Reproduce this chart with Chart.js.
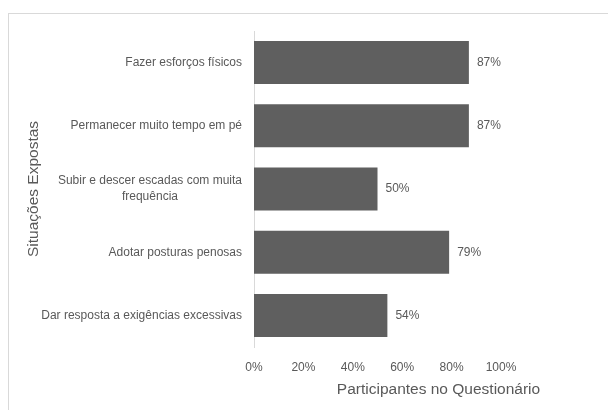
<!DOCTYPE html>
<html>
<head>
<meta charset="utf-8">
<script src="https://cdn.jsdelivr.net/npm/chart.js@4"></script>
<style>
  html, body { margin: 0; padding: 0; background: #fff; overflow: hidden; }
  #wrap { position: absolute; left: 0; top: 0; width: 608px; height: 410px; }
  #frame { position: absolute; left: 8px; top: 13px; width: 700px; height: 500px;
           border-top: 1px solid #d9d9d9; border-left: 1px solid #d9d9d9; }
</style>
</head>
<body>
<div id="wrap">
  <div id="frame"></div>
  <canvas id="chart" width="608" height="410"></canvas>
</div>
<script>
// --- datos ---
const categories = [
  ["Fazer esforços físicos"],
  ["Permanecer muito tempo em pé"],
  ["Subir e descer escadas com muita", "frequência"],
  ["Adotar posturas penosas"],
  ["Dar resposta a exigências excessivas"]
];
const values = [87, 87, 50, 79, 54];
const xTicks = [0, 20, 40, 60, 80, 100];
const xTitle = "Participantes no Questionário";
const yTitle = "Situações Expostas";

const FONT = "'Liberation Sans', Arial, sans-serif";
const TEXT = "#595959";

// etiquetas del eje Y, valores al final de cada barra y título del eje X
const labelsPlugin = {
  id: "labels",
  afterDraw(chart) {
    const ctx = chart.ctx;
    const yScale = chart.scales.y;
    const xScale = chart.scales.x;
    const area = chart.chartArea;
    ctx.save();
    ctx.fillStyle = TEXT;
    ctx.font = "12px " + FONT;
    ctx.textBaseline = "middle";
    ctx.textAlign = "center";
    const lineH = 16;
    categories.forEach((lines, i) => {
      const yc = yScale.getPixelForTick(i);
      const widest = Math.max(...lines.map((l) => ctx.measureText(l).width));
      const xc = area.left - 12 - widest / 2;
      lines.forEach((l, j) => {
        ctx.fillText(l, xc, yc + (j - (lines.length - 1) / 2) * lineH);
      });
    });
    ctx.textAlign = "left";
    chart.getDatasetMeta(0).data.forEach((bar, i) => {
      ctx.fillText(values[i] + "%", bar.x + 8, bar.y);
    });
    // título X desplazado a la derecha como en el original
    ctx.textAlign = "center";
    ctx.font = "15.5px " + FONT;
    ctx.fillText(xTitle, (area.left + area.right) / 2 + 61, xScale.bottom - 9);
    ctx.restore();
  }
};

new Chart(document.getElementById("chart"), {
  type: "bar",
  data: {
    labels: categories,
    datasets: [{
      data: values,
      backgroundColor: "#5f5f5f",
      barPercentage: 0.68,
      categoryPercentage: 1
    }]
  },
  options: {
    indexAxis: "y",
    responsive: false,
    animation: false,
    layout: { padding: { top: 31, right: 107, bottom: 11, left: 0 } },
    plugins: { legend: { display: false }, tooltip: { enabled: false } },
    scales: {
      x: {
        min: 0,
        max: 100,
        afterBuildTicks: (s) => { s.ticks = xTicks.map((v) => ({ value: v })); },
        afterFit: (s) => { s.height = 52; },
        grid: { display: false, drawTicks: false },
        border: { display: false },
        ticks: {
          padding: 13,
          color: TEXT,
          font: { family: FONT, size: 12 },
          callback: (v) => v + "%"
        },
        title: { display: false }
      },
      y: {
        afterFit: (s) => { s.width = 254; },
        grid: { display: false, drawTicks: false },
        border: { display: true, color: "#d9d9d9", width: 1 },
        ticks: { display: false },
        title: {
          display: true,
          text: yTitle,
          color: TEXT,
          font: { family: FONT, size: 15.5 },
          padding: { top: 24, bottom: 0 }
        }
      }
    }
  },
  plugins: [labelsPlugin]
});
</script>
</body>
</html>
